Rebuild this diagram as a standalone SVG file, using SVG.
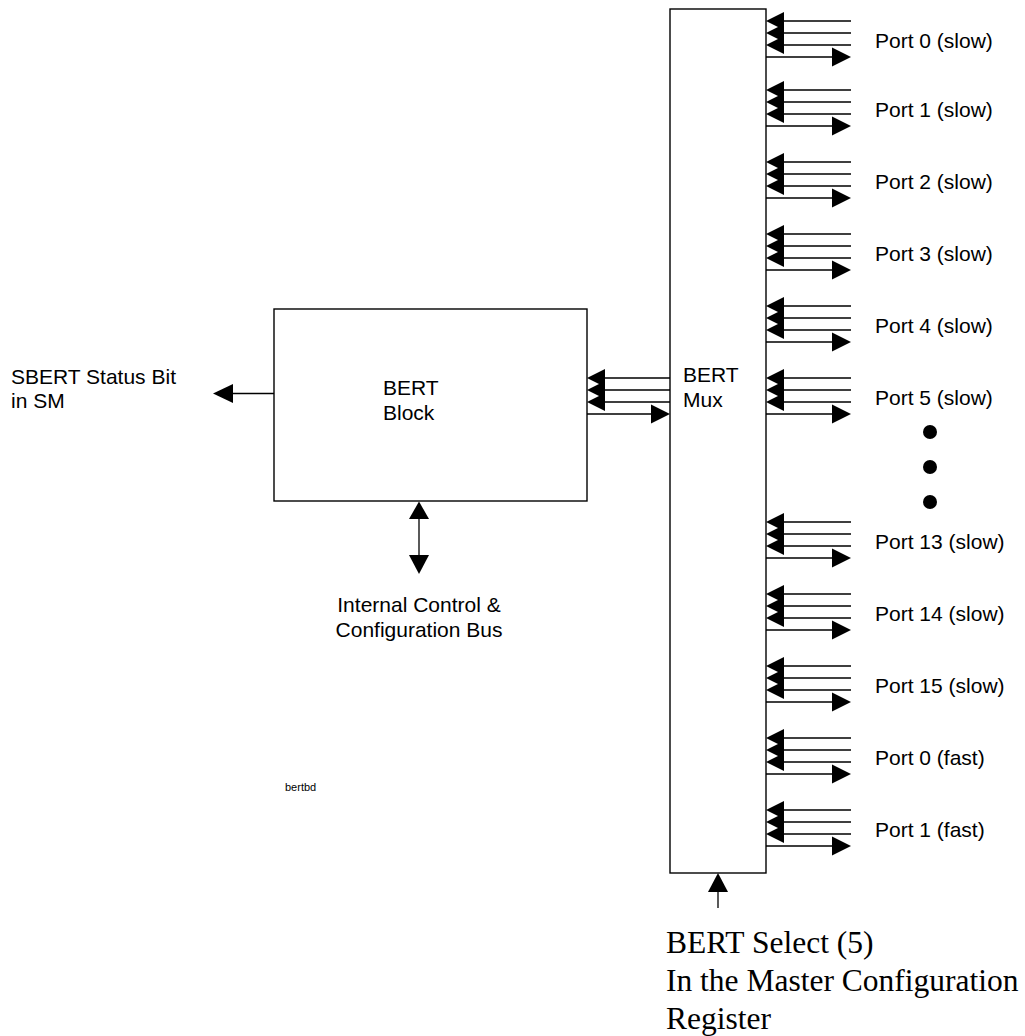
<svg xmlns="http://www.w3.org/2000/svg" xmlns:xlink="http://www.w3.org/1999/xlink" width="1025" height="1036" viewBox="0 0 1025 1036">
<style>
.box{fill:#fff;stroke:#000;stroke-width:1.4}
.ln{fill:none;stroke:#000;stroke-width:1.3}
.ah{fill:#000;stroke:none}
.t{font-family:"Liberation Sans",Arial,sans-serif;font-size:21px;fill:#000}
.ts{font-family:"Liberation Serif","Times New Roman",serif;font-size:31.5px;fill:#000}
.tiny{font-family:"Liberation Sans",Arial,sans-serif;font-size:11px;fill:#000}
</style>
<defs>
<g id="portArrows">
<path class="ln" d="M770 0H851M770 12H851M770 24H851M766 36H836"/>
<polygon class="ah" points="766,0 784,-9 784,9"/>
<polygon class="ah" points="766,12 784,3 784,21"/>
<polygon class="ah" points="766,24 784,15 784,33"/>
<polygon class="ah" points="851,36 832,26.5 832,45.5"/>
</g>
</defs>
<rect width="1025" height="1036" fill="#fff"/>
<g id="bert-block">
<rect class="box" x="274" y="309" width="313" height="192"/>
<text class="t" x="383" y="395">BERT</text>
<text class="t" x="383" y="420">Block</text>
</g>
<g id="bert-mux">
<rect class="box" x="670" y="9" width="96" height="864"/>
<text class="t" x="683" y="382">BERT</text>
<text class="t" x="683" y="407">Mux</text>
</g>
<g id="sbert-label">
<text class="t" x="11" y="384">SBERT Status Bit</text>
<text class="t" x="11" y="408">in SM</text>
</g>
<g id="bus-label">
<text class="t" x="419" y="612" text-anchor="middle">Internal Control &amp;</text>
<text class="t" x="419" y="637" text-anchor="middle">Configuration Bus</text>
</g>
<g id="select-label">
<text class="ts" x="666" y="953">BERT Select (5)</text>
<text class="ts" x="666" y="991">In the Master Configuration</text>
<text class="ts" x="666" y="1029">Register</text>
</g>
<g id="tag">
<text class="tiny" x="285" y="791">bertbd</text>
</g>
<g id="ports">
<g id="port0s"><use xlink:href="#portArrows" transform="translate(0,21)"/><text class="t" x="875" y="47.5">Port 0 (slow)</text></g>
<g id="port1s"><use xlink:href="#portArrows" transform="translate(0,90)"/><text class="t" x="875" y="116.5">Port 1 (slow)</text></g>
<g id="port2s"><use xlink:href="#portArrows" transform="translate(0,162)"/><text class="t" x="875" y="188.5">Port 2 (slow)</text></g>
<g id="port3s"><use xlink:href="#portArrows" transform="translate(0,234)"/><text class="t" x="875" y="260.5">Port 3 (slow)</text></g>
<g id="port4s"><use xlink:href="#portArrows" transform="translate(0,306)"/><text class="t" x="875" y="332.5">Port 4 (slow)</text></g>
<g id="port5s"><use xlink:href="#portArrows" transform="translate(0,378)"/><text class="t" x="875" y="404.5">Port 5 (slow)</text></g>
<g id="ellipsis">
<circle cx="930" cy="432" r="7"/>
<circle cx="930" cy="467" r="7"/>
<circle cx="930" cy="502" r="7"/>
</g>
<g id="port13s"><use xlink:href="#portArrows" transform="translate(0,522)"/><text class="t" x="875" y="548.5">Port 13 (slow)</text></g>
<g id="port14s"><use xlink:href="#portArrows" transform="translate(0,594)"/><text class="t" x="875" y="620.5">Port 14 (slow)</text></g>
<g id="port15s"><use xlink:href="#portArrows" transform="translate(0,666)"/><text class="t" x="875" y="692.5">Port 15 (slow)</text></g>
<g id="port0f"><use xlink:href="#portArrows" transform="translate(0,738)"/><text class="t" x="875" y="764.5">Port 0 (fast)</text></g>
<g id="port1f"><use xlink:href="#portArrows" transform="translate(0,810)"/><text class="t" x="875" y="836.5">Port 1 (fast)</text></g>
</g>
<g id="connectors">
<path class="ln" d="M590 378H670M590 390H670M590 402H670M587 414H655"/>
<polygon class="ah" points="587,378 605,369 605,387"/>
<polygon class="ah" points="587,390 605,381 605,399"/>
<polygon class="ah" points="587,402 605,393 605,411"/>
<polygon class="ah" points="670,414 651,404.5 651,423.5"/>
<path class="ln" d="M274 393.5H230"/>
<polygon class="ah" points="213,393.5 233,384 233,403"/>
<path class="ln" d="M419 515V558"/>
<polygon class="ah" points="419,501.5 409,519 429,519"/>
<polygon class="ah" points="419,574 409,555 429,555"/>
<path class="ln" d="M718 890V908"/>
<polygon class="ah" points="718,873 708,892 728,892"/>
</g>
</svg>
